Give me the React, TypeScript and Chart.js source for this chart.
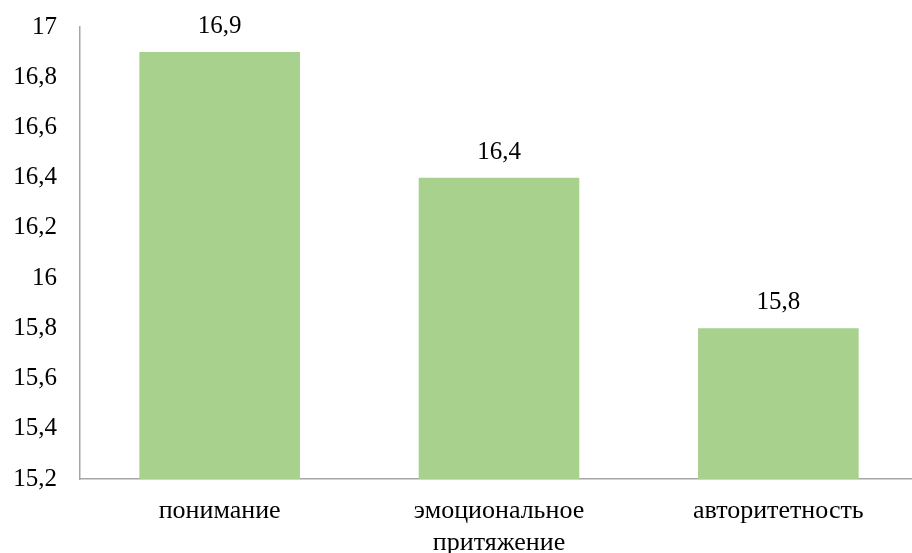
import React, { useEffect, useRef } from "react";
import { Chart, registerables } from "chart.js";

Chart.register(...registerables);

const categories: (string | string[])[] = ["понимание", ["эмоциональное", "притяжение"], "авторитетность"];
const values: number[] = [16.9, 16.4, 15.8];
const yMin = 15.2;
const yMax = 17;
const yStep = 0.2;

const fmt = (v: number) => {
  const s = (Math.round(v * 10) / 10).toFixed(1);
  return (s.endsWith(".0") ? s.slice(0, -2) : s).replace(".", ",");
};

const FONT = "'Liberation Serif', 'Times New Roman', serif";

const valueLabels = {
  id: "valueLabels",
  afterDatasetsDraw(chart: any) {
    const ctx = chart.ctx;
    const meta = chart.getDatasetMeta(0);
    ctx.save();
    ctx.font = `25px ${FONT}`;
    ctx.fillStyle = "#000";
    ctx.textAlign = "center";
    ctx.textBaseline = "alphabetic";
    meta.data.forEach((bar: any, i: number) => {
      ctx.fillText(fmt(values[i]), bar.x, bar.y - 19);
    });
    ctx.restore();
  },
};

export default function App() {
  const ref = useRef<HTMLCanvasElement>(null);
  useEffect(() => {
    if (!ref.current) return;
    const chart = new Chart(ref.current, {
      type: "bar",
      data: {
        labels: categories,
        datasets: [
          {
            data: values,
            backgroundColor: "#A9D18E",
            borderWidth: 0,
            barPercentage: 0.575,
            categoryPercentage: 1,
          },
        ],
      },
      options: {
        animation: false,
        responsive: false,
        maintainAspectRatio: false,
        layout: { padding: { top: 27, right: 0, left: 0, bottom: 0 } },
        plugins: { legend: { display: false }, tooltip: { enabled: false } },
        scales: {
          x: {
            grid: { display: false, drawTicks: false },
            border: { display: true, color: "#A6A6A6", width: 1.5 },
            ticks: {
              color: "#000",
              font: { family: FONT, size: 26, lineHeight: 1.2 },
              padding: 17,
              maxRotation: 0,
              autoSkip: false,
            },
            afterFit: (s: any) => {
              s.height = 74;
              s.paddingLeft = 0;
              s.paddingRight = 0;
            },
          },
          y: {
            min: yMin,
            max: yMax,
            grid: { display: false, drawTicks: false },
            border: { display: true, color: "#A6A6A6", width: 1.5 },
            ticks: {
              stepSize: yStep,
              color: "#000",
              font: { family: FONT, size: 25 },
              padding: 23,
              callback: (v: any) => fmt(Number(v)),
            },
            afterFit: (s: any) => {
              s.width = 80;
              s.paddingTop = 0;
              s.paddingBottom = 0;
            },
          },
        },
      },
      plugins: [valueLabels],
    });
    return () => chart.destroy();
  }, []);
  return (
    <div style={{ position: "fixed", left: 0, top: 0, width: 912, height: 553, overflow: "hidden", background: "#fff" }}>
      <canvas ref={ref} width={918} height={553} style={{ width: 918, height: 553, display: "block" }} />
    </div>
  );
}
